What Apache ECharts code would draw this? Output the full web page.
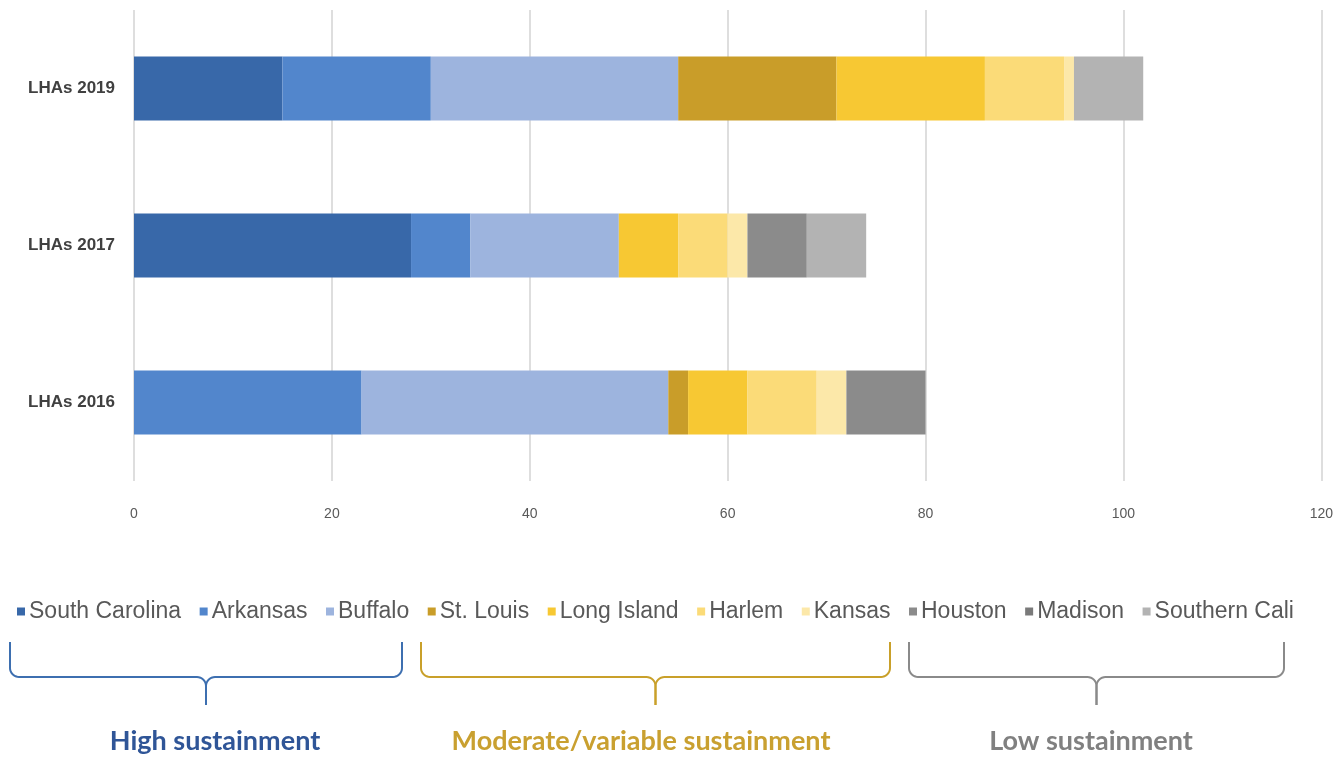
<!DOCTYPE html>
<html>
<head>
<meta charset="utf-8">
<title>LHAs sustainment</title>
<script src="https://cdn.jsdelivr.net/npm/echarts@6/dist/echarts.min.js"></script>
<style>
  html, body { margin: 0; padding: 0; background: #fff; }
  #chart { width: 1336px; height: 765px; }
</style>
</head>
<body>
<div id="chart"></div>
<script>
// categories, bottom to top
const years = ['LHAs 2016', 'LHAs 2017', 'LHAs 2019'];
const xTicks = [0, 20, 40, 60, 80, 100, 120];

const sites = ['South Carolina', 'Arkansas', 'Buffalo', 'St. Louis', 'Long Island',
               'Harlem', 'Kansas', 'Houston', 'Madison', 'Southern Cali'];
const siteColors = ['#3868a9', '#5286cc', '#9db4de', '#c99d29', '#f7c833',
                    '#fbdb78', '#fce8a9', '#8b8b8b', '#7a7a7a', '#b3b3b3'];

// values per site: [2016, 2017, 2019]
const southCarolina = [0, 28, 15];
const arkansas      = [23, 6, 15];
const buffalo       = [31, 15, 25];
const stLouis       = [2, 0, 16];
const longIsland    = [6, 6, 15];
const harlem        = [7, 5, 8];
const kansas        = [3, 2, 1];
const houston       = [8, 6, 0];
const madison       = [0, 0, 0];
const southernCali  = [0, 6, 7];

const siteValues = [southCarolina, arkansas, buffalo, stLouis, longIsland,
                    harlem, kansas, houston, madison, southernCali];

const groups = ['High sustainment', 'Moderate/variable sustainment', 'Low sustainment'];
const groupColors = ['#2f5597', '#c9a030', '#808080'];

const chart = echarts.init(document.getElementById('chart'));

// curly brace under the legend, drawn as two polylines
function brace(x1, x2, yTop, yMid, yTip, color) {
  const r = 9;
  const xc = (x1 + x2) / 2;
  const arc = (cx, cy, a0, a1) => {
    const pts = [];
    for (let i = 0; i <= 8; i++) {
      const a = a0 + (a1 - a0) * i / 8;
      pts.push([cx + r * Math.cos(a), cy + r * Math.sin(a)]);
    }
    return pts;
  };
  const PI = Math.PI;
  const left = [[x1, yTop]]
    .concat(arc(x1 + r, yMid - r, PI, PI / 2))
    .concat(arc(xc - r, yMid + r, -PI / 2, 0))
    .concat([[xc, yTip]]);
  const right = [[x2, yTop]]
    .concat(arc(x2 - r, yMid - r, 0, PI / 2))
    .concat(arc(xc + r, yMid + r, -PI / 2, -PI))
    .concat([[xc, yTip]]);
  return [left, right].map(points => ({
    type: 'polyline',
    shape: { points: points },
    style: { stroke: color, lineWidth: 2, fill: null }
  }));
}

const braces = [
  brace(10, 402, 642, 677, 705, '#3d6fb0'),
  brace(421, 890, 642, 677, 705, '#c9a02a'),
  brace(909, 1284, 642, 677, 705, '#8a8a8a')
];
const labelX = [215, 641, 1091];

const graphic = [];
braces.forEach(b => b.forEach(el => graphic.push(el)));
groups.forEach((g, i) => {
  graphic.push({
    type: 'text',
    x: labelX[i],
    y: 741,
    style: {
      text: g,
      fill: groupColors[i],
      font: 'bold 27px Lato',
      textAlign: 'center',
      textVerticalAlign: 'middle'
    }
  });
});

const option = {
  animation: false,
  color: siteColors,
  grid: {
    left: 134,
    right: 11,
    top: 10,
    bottom: 284
  },
  legend: {
    data: sites,
    left: 12,
    top: 595,
    itemWidth: 8,
    itemHeight: 8,
    itemGap: 18.5,
    icon: 'rect',
    textStyle: {
      fontFamily: 'Liberation Sans',
      fontSize: 23,
      color: '#595959',
      padding: [0, 0, 0, -1]
    }
  },
  xAxis: {
    type: 'value',
    min: xTicks[0],
    max: xTicks[xTicks.length - 1],
    interval: 20,
    axisLine: { show: false },
    axisTick: { show: false },
    axisLabel: {
      margin: 26,
      fontFamily: 'Liberation Sans',
      fontSize: 14,
      color: '#595959'
    },
    splitLine: {
      lineStyle: { color: '#dedede', width: 2 }
    }
  },
  yAxis: {
    type: 'category',
    data: years,
    axisLine: { show: false },
    axisTick: { show: false },
    axisLabel: {
      margin: 19,
      fontFamily: 'Liberation Sans',
      fontWeight: 'bold',
      fontSize: 17,
      color: '#404040'
    }
  },
  series: sites.map((name, i) => ({
    name: name,
    type: 'bar',
    stack: 'total',
    barWidth: 64,
    data: siteValues[i]
  })),
  graphic: graphic
};

chart.setOption(option);
</script>
</body>
</html>
